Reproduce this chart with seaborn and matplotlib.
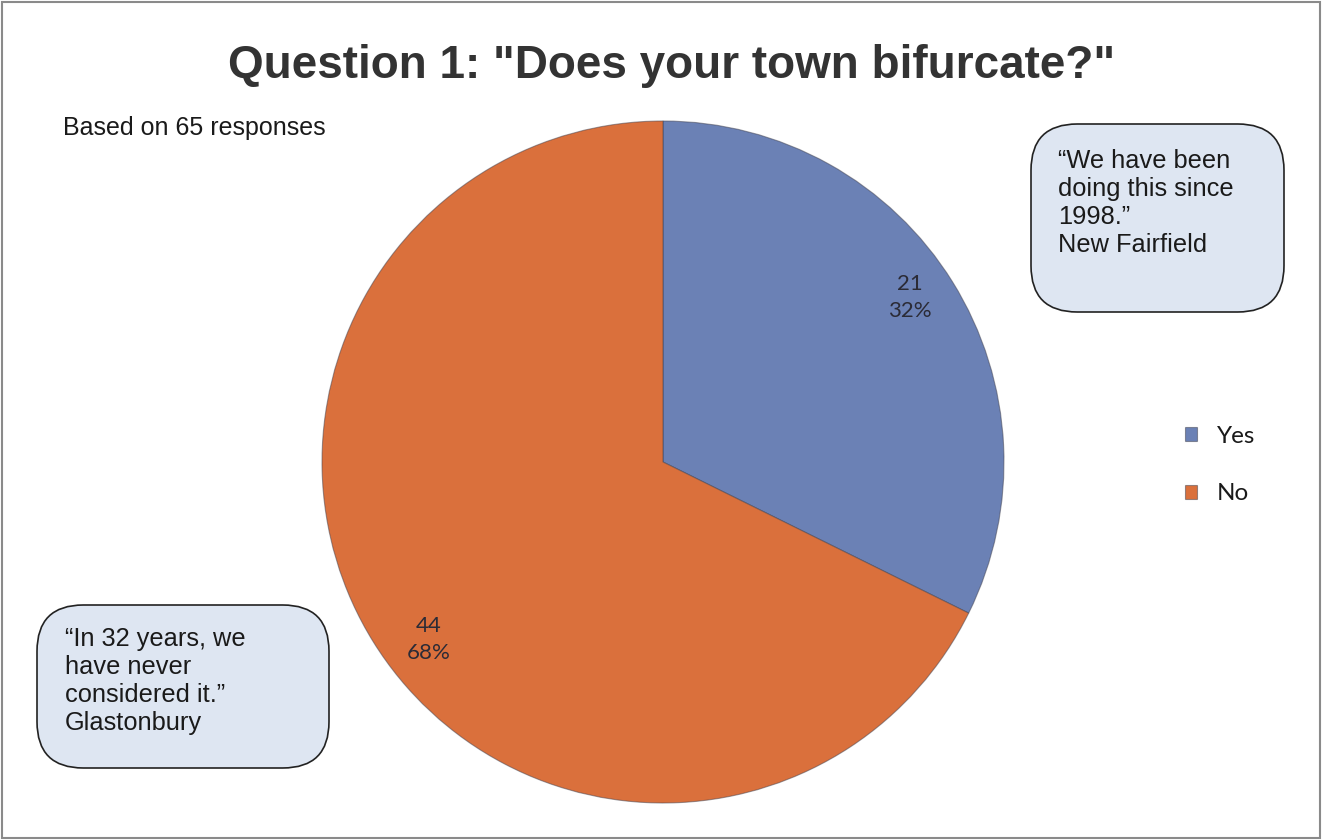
import matplotlib
matplotlib.use("Agg")
import numpy as np
import matplotlib.pyplot as plt
from matplotlib.patches import FancyBboxPatch, Rectangle
import seaborn as sns

# Survey answers
answers = ["Yes", "No"]
counts = [21, 44]
total_responses = 65

title_text = 'Question 1: "Does your town bifurcate?"'
subtitle_text = "Based on 65 responses"
quote_right = "\u201cWe have been\ndoing this since\n1998.\u201d\nNew Fairfield"
quote_left = "\u201cIn 32 years, we\nhave never\nconsidered it.\u201d\nGlastonbury"

sns.set_theme(style="white")
plt.rcParams["font.family"] = ["Liberation Sans", "DejaVu Sans"]

colors = ["#6b81b5", "#da703c"]

W, H = 1322, 840
fig = plt.figure(figsize=(W / 100, H / 100), dpi=100)
fig.patch.set_facecolor("white")

# Pie axes: centre at (663, 462) px, radius ~341 px
cx, cy, r = 663, 462, 341
ax = fig.add_axes([(cx - r) / W, (H - cy - r) / H, 2 * r / W, 2 * r / H])


def label_fmt(pct):
    n = int(round(pct * total_responses / 100.0))
    return f"{n}\n{pct:.0f}%"


wedges, _, autotexts = ax.pie(
    counts,
    colors=colors,
    startangle=90,
    counterclock=False,
    autopct=label_fmt,
    pctdistance=0.865,
    wedgeprops=dict(edgecolor=(0.25, 0.25, 0.3, 0.5), linewidth=0.8),
    textprops=dict(family=["Lato", "DejaVu Sans"], fontsize=16, color="#2b2b36",
                   linespacing=1.45),
)
# place the value labels slightly counter-clockwise and lower inside each wedge
for w, t in zip(wedges, autotexts):
    ang = np.deg2rad((w.theta1 + w.theta2) / 2 + 3.5)
    t.set_position((0.865 * np.cos(ang) + 0.017, 0.865 * np.sin(ang) - 0.019))

ax.set_aspect("equal")
ax.set_xlim(-1, 1)
ax.set_ylim(-1, 1)
ax.axis("off")

# Title and subtitle
fig.text(672 / W, 1 - 66 / H, title_text, ha="center", va="center",
         fontsize=33, fontweight="bold", color="#333333")
fig.text(63 / W, 1 - 128 / H, subtitle_text, ha="left", va="center",
         fontsize=18, color="#1a1a1a")

# Quote call-outs
def callout(x0, y0, x1, y1, tx, ty, text):
    box = FancyBboxPatch(
        (x0 / W, 1 - y1 / H), (x1 - x0) / W, (y1 - y0) / H,
        boxstyle="round,pad=0,rounding_size=0.035",
        transform=fig.transFigure, facecolor="#dee6f2", edgecolor="#222222",
        linewidth=1.2, mutation_aspect=W / H,
    )
    fig.add_artist(box)
    fig.text(tx / W, 1 - ty / H, text, ha="left", va="top", fontsize=18.3,
             color="#1a1a1a", linespacing=1.21)


callout(1031, 124, 1284, 312, 1058, 149, quote_right)
callout(37, 605, 329, 768, 65, 627, quote_left)

# Legend
leg = fig.legend(
    wedges, answers, loc="center left",
    bbox_to_anchor=(1163 / W, 1 - 465 / H),
    frameon=False, handlelength=0.5, handleheight=0.5, handletextpad=0.82,
    labelspacing=1.5, prop=dict(family=["Lato", "DejaVu Sans"], size=17.5),
)
for t in leg.get_texts():
    t.set_color("#1a1a1a")

# Outer frame
fig.add_artist(Rectangle((0.0015, 0.002), 0.997, 0.996, transform=fig.transFigure,
                         fill=False, edgecolor="#8a8a8a", linewidth=1.5))

fig.savefig("out.png", dpi=100)
